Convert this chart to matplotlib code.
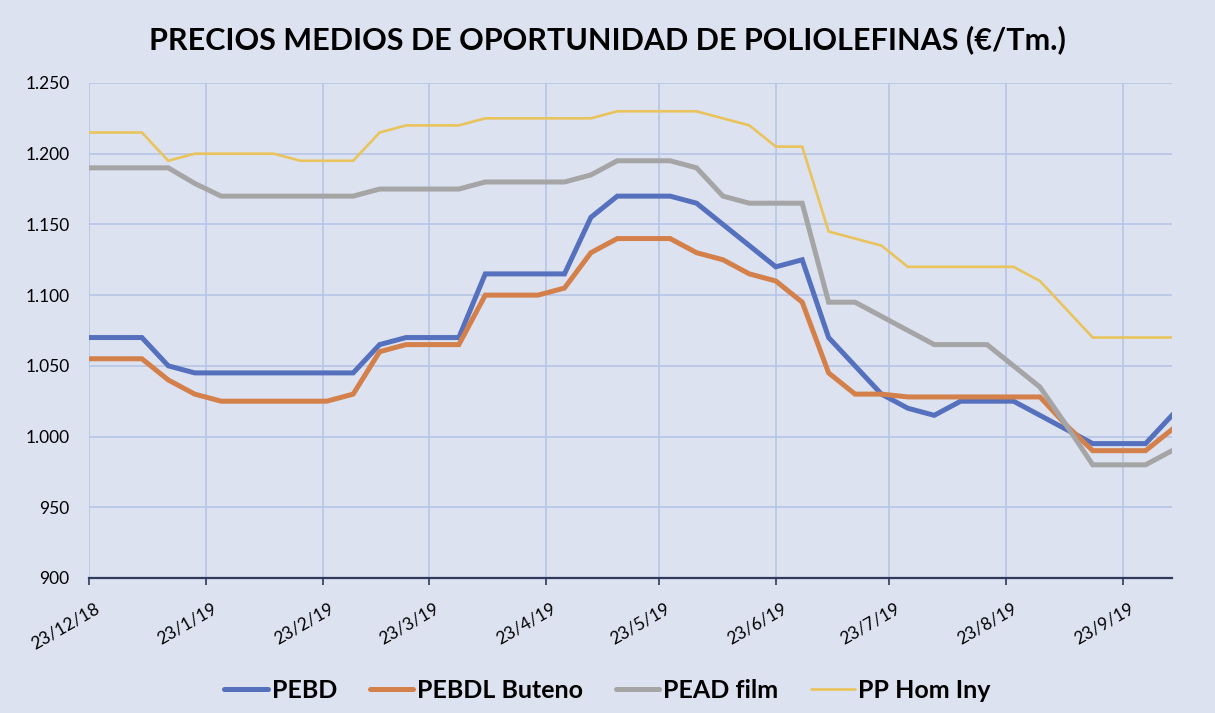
import pandas as pd
import matplotlib
matplotlib.use("Agg")
import matplotlib.pyplot as plt
import matplotlib.dates as mdates
import matplotlib.transforms as mtransforms
from matplotlib.ticker import FuncFormatter

# weekly data points from 23/12/2018
fechas = pd.date_range("2018-12-23", periods=42, freq="7D")

pebd = [1070, 1070, 1070, 1050, 1045, 1045, 1045, 1045, 1045, 1045,
        1045, 1065, 1070, 1070, 1070, 1115, 1115, 1115, 1115, 1155,
        1170, 1170, 1170, 1165, 1150, 1135, 1120, 1125, 1070, 1050,
        1030, 1020, 1015, 1025, 1025, 1025, 1015, 1005, 995, 995,
        995, 1015]
pebdl_buteno = [1055, 1055, 1055, 1040, 1030, 1025, 1025, 1025, 1025, 1025,
                1030, 1060, 1065, 1065, 1065, 1100, 1100, 1100, 1105, 1130,
                1140, 1140, 1140, 1130, 1125, 1115, 1110, 1095, 1045, 1030,
                1030, 1028, 1028, 1028, 1028, 1028, 1028, 1008, 990, 990,
                990, 1005]
pead_film = [1190, 1190, 1190, 1190, 1179, 1170, 1170, 1170, 1170, 1170,
             1170, 1175, 1175, 1175, 1175, 1180, 1180, 1180, 1180, 1185,
             1195, 1195, 1195, 1190, 1170, 1165, 1165, 1165, 1095, 1095,
             1085, 1075, 1065, 1065, 1065, 1050, 1035, 1008, 980, 980,
             980, 990]
pp_hom_iny = [1215, 1215, 1215, 1195, 1200, 1200, 1200, 1200, 1195, 1195,
              1195, 1215, 1220, 1220, 1220, 1225, 1225, 1225, 1225, 1225,
              1230, 1230, 1230, 1230, 1225, 1220, 1205, 1205, 1145, 1140,
              1135, 1120, 1120, 1120, 1120, 1120, 1110, 1090, 1070, 1070,
              1070, 1070]

series = ["PEBD", "PEBDL Buteno", "PEAD film", "PP Hom Iny"]
valores = [pebd, pebdl_buteno, pead_film, pp_hom_iny]
colores = ["#5571BE", "#D4804A", "#A5A5A5", "#E9C35C"]
grosores = [3.6, 3.6, 3.6, 1.9]

fondo = "#DDE2F1"
plt.rcParams["font.family"] = ["Lato", "DejaVu Sans"]

fig = plt.figure(figsize=(12.15, 7.13), dpi=100, facecolor=fondo)
ax = fig.add_axes([0.0733, 0.1894, 0.8913, 0.6942], facecolor=fondo)

for nombre, v, c, lw in zip(series, valores, colores, grosores):
    ax.plot(fechas, v, color=c, lw=lw, label=nombre, solid_joinstyle="miter")

ax.set_ylim(900, 1250)
ax.set_yticks(range(900, 1251, 50))
ax.yaxis.set_major_formatter(FuncFormatter(lambda v, p: f"{int(v):,}".replace(",", ".")))
ax.set_xlim(fechas[0], fechas[-1])
ax.xaxis.set_major_locator(mdates.MonthLocator(bymonthday=23))
ax.xaxis.set_major_formatter(FuncFormatter(
    lambda v, p: "{d.day}/{d.month}/{y}".format(d=mdates.num2date(v), y=mdates.num2date(v).strftime("%y"))))

ax.grid(True, color="#B6C6E6", lw=1.2)
ax.set_axisbelow(True)
for s in ["top", "right", "left"]:
    ax.spines[s].set_visible(False)
ax.spines["bottom"].set_color("#2E3B5C")
ax.spines["bottom"].set_linewidth(1.6)
ax.tick_params(axis="y", length=0, labelsize=12.5, pad=14)
ax.tick_params(axis="x", length=5, color="#2E3B5C", width=1.2, labelsize=12.5, pad=11)
desplaza = mtransforms.ScaledTranslation(4 / 72, 0, fig.dpi_scale_trans)
for lab in ax.get_xticklabels():
    lab.set_rotation(30)
    lab.set_ha("right")
    lab.set_va("top")
    lab.set_rotation_mode("anchor")
    lab.set_transform(lab.get_transform() + desplaza)

fig.text(0.5, 0.945, "PRECIOS MEDIOS DE OPORTUNIDAD DE POLIOLEFINAS (€/Tm.)",
         ha="center", va="center", fontsize=22, fontweight="bold")

leg = fig.legend(loc="center", bbox_to_anchor=(0.5, 0.032), ncol=4, frameon=False,
                 prop=dict(size=18, weight="bold"), handlelength=1.75, columnspacing=1.3,
                 handletextpad=0.15)
for h in leg.get_lines():
    h.set_solid_capstyle("round")

fig.savefig("out.png", dpi=100, facecolor=fondo)
